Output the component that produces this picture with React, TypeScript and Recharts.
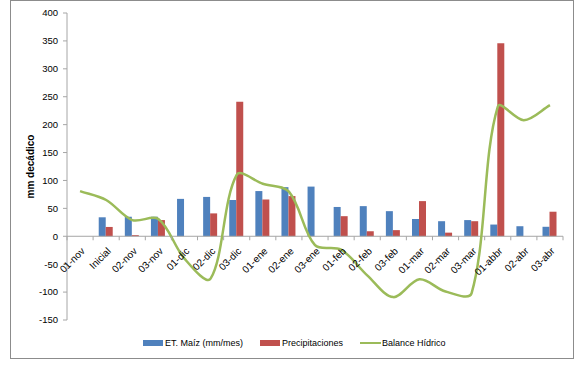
import React from 'react';
import { ComposedChart, Bar, Line, XAxis, YAxis, ReferenceLine } from 'recharts';

const categories = ['01-nov', 'Inicial', '02-nov', '03-nov', '01-dic', '02-dic', '03-dic', '01-ene', '02-ene', '03-ene', '01-feb', '02-feb', '03-feb', '01-mar', '02-mar', '03-mar', '01-abbr', '02-abr', '03-abr'];
const etMaiz = [null, 34, 35, 35, 67, 70.5, 65, 81, 88, 89, 52.5, 54, 45, 31, 27, 29, 21, 18, 17];
const precipitaciones = [null, 16.7, 2, 29, 0, 41, 241, 66, 72, 0, 36, 9, 11, 63, 6.5, 27, 346, 0, 44];
const balanceHidrico = [81, 65, 29, 31, -40, -76, 110, 94, 80, -16, -24, -70, -109, -77, -99, -102, 232, 208, 235];
const yTicks = [-150, -100, -50, 0, 50, 100, 150, 200, 250, 300, 350, 400];

const data = categories.map((cat, i) => ({
  cat,
  et: etMaiz[i],
  pp: precipitaciones[i],
  bh: balanceHidrico[i],
}));

const BLUE = '#4F81BD';
const RED = '#C0504D';
const GREEN = '#9BBB59';
const AXIS = '#a6a6a6';
const FONT = '"Liberation Sans", Arial, sans-serif';

const CHART_W = 562;
const CHART_H = 357;
const M_TOP = 12;
const M_RIGHT = 10;
const M_BOTTOM = 37;
const Y_W = 56;
const X_H = 1;
const PLOT_W = CHART_W - Y_W - M_RIGHT;
const PLOT_H = CHART_H - M_TOP - M_BOTTOM - X_H;
const Y_MIN = -150;
const Y_MAX = 400;
const ZERO_Y = M_TOP + (Y_MAX / (Y_MAX - Y_MIN)) * PLOT_H;
const BAND = PLOT_W / categories.length;

// Excel-like smoothing curve factory
const excelSmooth = (context: any) => {
  let pts: number[][] = [];
  return {
    areaStart() {},
    areaEnd() {},
    lineStart() {
      pts = [];
    },
    point(x: number, y: number) {
      pts.push([+x, +y]);
    },
    lineEnd() {
      const n = pts.length;
      if (!n) return;
      context.moveTo(pts[0][0], pts[0][1]);
      if (n === 1) return;
      const T = 1 / 3;
      const cIn: number[][] = [];
      const cOut: number[][] = [];
      for (let i = 0; i < n; i++) {
        const p1 = pts[i];
        const p0 = pts[i - 1] || p1;
        const p2 = pts[i + 1] || p1;
        const d01 = Math.hypot(p1[0] - p0[0], p1[1] - p0[1]);
        const d12 = Math.hypot(p2[0] - p1[0], p2[1] - p1[1]);
        const sum = d01 + d12 || 1;
        const dx = p2[0] - p0[0];
        const dy = p2[1] - p0[1];
        const fa = (T * d01) / sum;
        const fb = (T * d12) / sum;
        cIn[i] = [p1[0] - fa * dx, p1[1] - fa * dy];
        cOut[i] = [p1[0] + fb * dx, p1[1] + fb * dy];
      }
      for (let i = 0; i < n - 1; i++) {
        context.bezierCurveTo(cOut[i][0], cOut[i][1], cIn[i + 1][0], cIn[i + 1][1], pts[i + 1][0], pts[i + 1][1]);
      }
    },
  };
};

const XTick = (props: any) => {
  const { x, payload, index } = props;
  const last = index === categories.length - 1;
  const ax = x + 3;
  const ay = ZERO_Y + 13;
  return (
    <g>
      <line x1={x - BAND / 2} x2={x - BAND / 2} y1={ZERO_Y} y2={ZERO_Y + 4} stroke={AXIS} />
      {last && <line x1={x + BAND / 2} x2={x + BAND / 2} y1={ZERO_Y} y2={ZERO_Y + 4} stroke={AXIS} />}
      <text
        x={ax}
        y={ay}
        dy="0.35em"
        textAnchor="end"
        transform={`rotate(-45, ${ax}, ${ay})`}
        fontSize={10}
        fontFamily={FONT}
        fill="#000"
      >
        {payload.value}
      </text>
    </g>
  );
};

const YLabel = (props: any) => {
  const vb = props.viewBox || {};
  const cx = (vb.x || 0) + 19;
  const cy = (vb.y || 0) + (vb.height || 0) / 2;
  return (
    <text
      x={cx}
      y={cy}
      dy="0.35em"
      textAnchor="middle"
      transform={`rotate(-90, ${cx}, ${cy})`}
      fontSize={10}
      fontWeight="bold"
      fontFamily={FONT}
      fill="#000"
    >
      mm decádico
    </text>
  );
};

const legendItems = [
  { label: 'ET. Maíz (mm/mes)', color: BLUE, kind: 'rect' },
  { label: 'Precipitaciones', color: RED, kind: 'rect' },
  { label: 'Balance Hídrico', color: GREEN, kind: 'line' },
];

export default function App() {
  return (
    <div
      style={{
        position: 'absolute',
        left: 10,
        top: 0,
        width: 564,
        height: 359,
        border: '1px solid #8c8c8c',
        boxSizing: 'border-box',
        background: '#fff',
      }}
    >
      <ComposedChart
        width={CHART_W}
        height={CHART_H}
        data={data}
        margin={{ top: M_TOP, right: M_RIGHT, bottom: M_BOTTOM, left: 0 }}
        barCategoryGap="21.5%"
        barGap={0}
      >
        <XAxis
          dataKey="cat"
          height={X_H}
          axisLine={false}
          tickLine={false}
          interval={0}
          tick={<XTick />}
        />
        <YAxis
          width={Y_W}
          domain={[Y_MIN, Y_MAX]}
          ticks={yTicks}
          allowDataOverflow
          axisLine={{ stroke: AXIS }}
          tickLine={{ stroke: AXIS }}
          tickSize={4}
          tickMargin={5}
          tick={{ fontSize: 9.5, fontFamily: FONT, fill: '#000' }}
          label={<YLabel />}
        />
        <Bar dataKey="et" fill={BLUE} isAnimationActive={false} />
        <Bar dataKey="pp" fill={RED} isAnimationActive={false} />
        <ReferenceLine y={0} stroke={AXIS} />
        <Line
          dataKey="bh"
          type={excelSmooth as any}
          stroke={GREEN}
          strokeWidth={2.5}
          dot={false}
          activeDot={false}
          isAnimationActive={false}
        />
      </ComposedChart>
      <div
        style={{
          position: 'absolute',
          left: 132,
          top: 335,
          height: 14,
          display: 'flex',
          alignItems: 'center',
          fontFamily: FONT,
          fontSize: 9,
          color: '#000',
          whiteSpace: 'nowrap',
        }}
      >
        {legendItems.map((it, i) => (
          <div key={i} style={{ display: 'flex', alignItems: 'center', marginRight: i < 2 ? 17 : 0 }}>
            {it.kind === 'rect' ? (
              <span style={{ display: 'inline-block', width: 20, height: 6, background: it.color, marginRight: 2 }} />
            ) : (
              <span style={{ display: 'inline-block', width: 21, height: 2.5, background: it.color, marginRight: 1 }} />
            )}
            <span>{it.label}</span>
          </div>
        ))}
      </div>
    </div>
  );
}
